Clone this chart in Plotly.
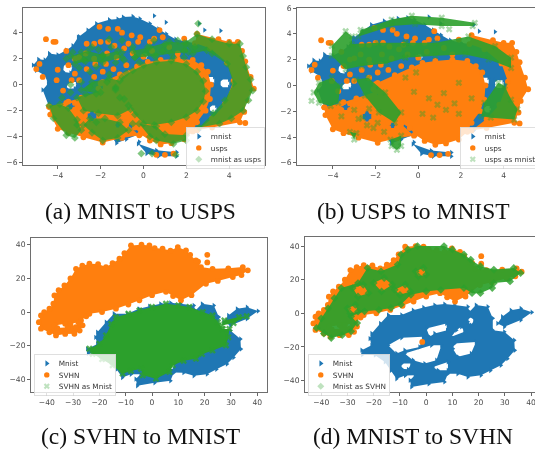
import json
import plotly.graph_objects as go

W, H = 535, 449

# ---- values; each series is a list of outlines / lone points ----
mnist_small = [
    [(-5.15,1.5),(-4.9,1.95),(-4.6,1.9),(-4.4,2.4),(-4.0,2.3),(-3.6,2.65),(-3.3,3.0),(-3.05,3.65),(-2.6,4.2),(-2.2,4.7),(-1.6,5.0),(-1.2,5.05),(-0.95,5.2),(-0.5,5.25),(-0.17,5.08),(0.3,4.7),(0.7,4.3),(1.07,3.9),(1.5,3.5),(2.0,3.3),(3.2,3.0),(4.2,2.6),(4.6,1.3),(4.8,0.1),(4.6,-1.2),(4.2,-2.2),(2.6,-3.5),(1.8,-3.5),(1.2,-3.3),(0.5,-3.5),(-0.17,-3.8),(-0.8,-4.2),(-1.26,-4.5),(-1.5,-4.0),(-1.7,-3.5),(-2.6,-3.4),(-3.6,-3.2),(-4.1,-2.4),(-4.4,-1.7),(-4.7,-0.4),(-4.45,0.1),(-4.6,0.7),(-5.0,1.1)],
    [(-3.75,1.0),(-3.4,0.9),(-3.3,1.5),(-3.7,1.6)],
    [(-3.6,-0.3),(-3.2,-0.3),(-3.1,0.2),(-3.5,0.2)],
    [(-0.1,2.0),(0.2,2.0),(0.2,2.4),(-0.1,2.4)],
    [(2.9,0.0),(3.3,0.0),(3.3,0.6),(2.9,0.6)],
    [(3.6,-0.2),(4.0,-0.2),(4.0,0.4),(3.6,0.4)],
    [(3.1,-2.1),(3.4,-2.1),(3.4,-1.6),(3.1,-1.6)],
    [(0.8,-3.5),(1.2,-3.5),(1.2,-3.1),(0.8,-3.1)],
    [(1.7,-3.6),(2.1,-3.6),(2.1,-3.2),(1.7,-3.2)],
    [(-0.25,-4.55),(0.6,-5.05),(1.55,-5.2),(1.55,-5.5),(0.7,-5.5),(0.15,-5.3)],
    [(0.5,5.3)],[(1.05,4.8)],[(2.6,4.7)],[(2.85,4.2)],[(3.6,4.15)],[(-3.0,3.7)],[(-0.2,-4.4)],
]
usps = [
    [(-1.9,0.2),(-1.1,0.8),(-0.3,1.4),(0.2,1.75),(0.8,1.9),(1.6,2.0),(2.3,1.9),(2.7,1.5),(3.0,1.0),(3.15,0.0),(3.1,-1.1),(2.9,-2.0),(2.5,-2.9),(2.3,-3.6),(1.9,-4.2),(1.3,-4.5),(0.8,-4.6),(0.3,-4.3),(-0.15,-3.8),(-0.4,-3.3),(-0.8,-2.9),(-1.55,-2.1),(-1.9,-1.0)],
    [(-4.4,-1.7),(-3.5,-1.3),(-2.9,-1.0),(-2.0,-0.5),(-1.5,-2.0),(-0.8,-3.0),(-0.2,-3.9),(-1.0,-4.1),(-1.9,-4.45),(-2.8,-4.05),(-3.5,-3.7),(-4.0,-3.4),(-4.35,-2.3)],
    [(-3.6,-1.9),(-3.2,-1.9),(-3.2,-1.4),(-3.6,-1.4)],
    [(-2.6,-2.8),(-2.2,-2.8),(-2.2,-2.0),(-2.6,-2.0)],
    [(-1.4,-3.3),(-1.0,-3.3),(-1.0,-2.9),(-1.4,-2.9)],
    [(2.5,3.9),(3.5,3.5),(4.0,3.3),(4.4,3.3),(4.6,2.6),(4.75,1.8),(5.0,0.6),(5.15,-0.3),(4.8,-1.2),(4.7,-2.1),(4.5,-2.9),(3.2,-3.3),(2.5,-3.5),(3.2,-2.6),(3.8,-1.5),(4.2,0.3),(3.9,1.7),(3.1,2.8),(2.4,3.2)],
    [(-4.55,3.5)],[(-4.2,3.3)],[(-4.1,3.3)],[(-4.85,1.6)],[(-5.0,1.2)],[(-4.0,1.15)],[(-4.7,0.6)],[(-3.6,2.6)],[(-3.2,2.0)],[(-3.0,2.1)],[(-3.5,1.5)],[(-3.2,0.85)],[(-3.0,0.35)],[(-3.35,0.35)],[(-4.05,0.35)],[(-3.75,-0.45)],[(-4.4,-1.7)],
    [(-2.65,3.15)],[(-2.3,3.15)],[(-2.0,3.3)],[(-2.05,4.45)],[(-1.65,4.3)],[(-1.2,4.3)],[(-1.0,4.0)],[(-1.35,3.0)],[(-1.65,3.3)],[(-0.7,3.15)],[(-0.25,3.3)],[(-0.55,3.8)],[(-0.15,3.65)],[(0.3,3.3)],[(0.5,3.55)],[(0.75,4.2)],[(0.9,3.65)],[(1.9,3.55)],
    [(0.0,2.15)],[(-0.5,2.4)],[(-2.3,2.0)],[(-2.25,1.6)],[(-1.75,1.6)],[(-2.65,1.2)],[(-1.9,1.0)],[(-2.3,0.6)],[(-2.0,0.1)],[(-2.1,-0.3)],[(-1.25,2.1)],[(-0.8,1.5)],[(-1.4,1.2)],
    [(4.75,-2.95)],[(0.6,-5.4)],[(1.0,-5.4)],[(1.4,-5.3)],[(-0.55,-2.2)],[(-2.65,-3.75)],[(-1.7,2.4)],[(1.2,2.9)],[(0.4,2.6)],[(1.6,2.4)],[(-0.9,2.8)],[(-2.7,2.4)],
]
green_a = [
    [(-1.3,-0.2),(-1.0,0.6),(-0.5,1.1),(0.0,1.5),(0.6,1.75),(1.3,1.85),(2.0,1.6),(2.5,1.0),(2.8,0.3),(2.9,-0.5),(2.8,-1.3),(2.5,-2.0),(2.0,-2.5),(1.3,-2.9),(0.5,-3.1),(0.0,-3.0),(-0.4,-2.3),(-0.7,-1.6),(-1.1,-1.0)],
    [(-0.2,-3.0),(0.3,-4.0),(0.6,-4.3),(1.4,-4.55),(2.0,-4.3),(2.0,-3.9),(1.0,-3.8),(0.6,-3.2)],
    [(-4.4,-1.6),(-4.2,-2.6),(-3.6,-3.9),(-3.2,-4.1),(-2.9,-3.5),(-3.1,-2.7),(-3.5,-1.8),(-3.9,-1.5)],
    [(-2.8,-3.1),(-2.4,-3.7),(-1.9,-4.3),(-1.2,-4.1),(-0.7,-3.5),(-1.1,-2.9),(-1.8,-2.6),(-2.5,-2.6)],
    [(-3.1,-1.0),(-2.7,-0.7),(-2.0,-0.6),(-1.3,-0.3),(-0.9,-1.1),(-0.6,-1.9),(-1.2,-2.4),(-2.1,-2.2),(-2.8,-2.0)],
    [(-2.9,-0.4),(-2.4,0.2),(-1.6,0.5),(-1.1,0.3),(-1.3,-0.4),(-2.2,-0.7)],
    [(2.5,3.9),(3.2,3.5),(4.0,3.15),(4.5,3.15),(4.65,2.2),(4.8,1.35),(5.0,0.4),(5.1,-0.45),(4.9,-1.2),(4.65,-2.0),(4.1,-2.6),(3.55,-3.0),(2.6,-3.3),(3.25,-2.2),(3.8,-1.2),(4.2,0.1),(3.9,1.6),(2.95,2.65),(2.3,2.4),(1.9,3.2)],
    [(-3.4,2.2),(-2.6,2.6),(-1.9,2.3),(-1.2,2.6),(-1.0,2.1),(-1.9,1.7),(-2.7,1.8),(-3.2,1.6)],
    [(-0.5,2.6),(0.3,2.9),(1.2,3.3),(2.0,3.2),(2.1,2.5),(1.3,2.4),(0.5,2.2),(-0.4,2.1)],
    [(-3.3,2.5)],[(-2.8,1.9)],[(-2.4,2.9)],[(-1.9,2.2)],[(-1.5,2.9)],[(-1.0,2.5)],[(-0.5,2.9)],[(-0.2,1.7)],[(0.2,2.9)],[(0.6,2.2)],[(1.0,3.1)],[(1.4,2.1)],[(1.6,3.4)],[(0.5,3.4)],[(-3.0,1.3)],[(-2.5,1.0)],[(-1.6,0.8)],[(-3.4,0.0)],[(2.55,4.7)],[(-0.1,-5.3)],[(1.5,-5.4)],[(0.4,-5.3)],[(-1.0,3.4)],[(-0.4,2.1)],[(1.9,2.6)],[(-1.3,1.7)],
    [(-2.9,0.2)],[(-2.5,-0.2)],[(-3.4,-0.6)],[(-3.8,-1.0)],[(-1.7,0.2)],[(-0.8,0.9)],[(-2.2,1.4)],[(-2.9,2.5)],[(-3.6,2.0)],[(-2.1,2.7)],[(0.9,2.6)],[(1.9,2.1)],[(2.4,2.9)],[(3.2,2.4)],[(0.1,2.4)],[(-1.6,3.5)],[(-0.9,1.9)],[(-2.2,-2.9)],[(-3.1,-3.1)],[(-0.5,-3.0)],
]
green_b = [
    [(-1.25,5.1),(-0.3,5.4),(1.1,5.25),(2.65,4.85),(2.55,4.6),(1.1,4.6),(-0.15,4.75),(-1.25,4.6),(-2.8,3.8),(-2.7,4.3)],
    [(-4.05,3.05),(-3.4,4.2),(-3.1,3.8),(-3.1,3.2),(-1.9,3.3),(-0.6,3.3),(-0.6,2.15),(-1.5,1.7),(-2.65,1.5),(-3.4,1.25),(-4.05,2.3)],
    [(-0.6,3.3),(0.8,3.3),(2.35,3.8),(3.6,3.05),(4.35,2.15),(4.35,1.35),(3.3,2.0),(2.2,2.4),(0.8,2.3),(-0.6,2.15)],
    [(-4.9,-0.55),(-4.65,0.2),(-4.05,0.6),(-3.65,-0.05),(-3.75,-1.35),(-4.1,-1.6),(-4.65,-1.35)],
    [(-2.9,0.45),(-2.35,0.6),(-1.55,-0.55),(-0.8,-2.1),(-1.1,-2.9),(-1.85,-2.1),(-2.5,-0.8)],
    [(-1.3,-4.2),(-0.8,-3.9),(-0.8,-4.7),(-1.0,-5.0),(-1.25,-4.7)],
    [(-3.2,-3.6),(-3.0,-4.2),(-2.9,-3.7)],
    [(3.1,-1.35),(3.75,0.2),(4.05,-0.05),(4.35,-1.1),(4.65,-1.85),(4.5,-2.65),(3.4,-2.5),(2.95,-2.4)],
    [(1.45,4.35)],[(0.5,-1.0)],[(0.9,-1.5)],[(1.3,-1.9)],[(1.7,-1.4)],[(0.2,-2.2)],[(0.7,-2.5)],[(1.9,-2.2)],[(1.2,-0.6)],[(-0.2,-0.5)],[(-0.6,0.6)],[(-0.1,1.0)],[(1.9,0.2)],[(2.5,-1.0)],[(-2.6,-2.5)],[(-2.1,-3.3)],[(-3.0,-1.9)],[(-1.6,-3.6)],[(-5.0,-1.2)],[(-3.6,-2.4)],[(-2.8,-2.6)],[(-2.3,-1.8)],[(-1.9,-2.9)],[(-2.4,-3.1)],
]
mnist_large = [
    [(-24.6,-21.9),(-20.8,-19),(-21.5,-15),(-20.8,-12),(-17.5,-6),(-14.5,-1),(-9.4,-1),(-5,1.9),(-1,3.5),(3.2,4.9),(7,5.5),(10.8,4.9),(15.9,3.9),(16.5,0.9),(19,4.9),(23.5,3.9),(25.4,-3),(25.4,-10),(29.8,-11),(33.6,-16),(33.8,-22),(31,-27),(28.5,-30.9),(24.5,-34),(20.9,-36.9),(15.9,-37.9),(12,-36),(8.3,-35.9),(7,-40.8),(1,-42),(-5.6,-43.8),(-6.2,-39.8),(-4.3,-36.9),(-8,-37),(-11.3,-38.9),(-13.5,-34),(-15.7,-28.9),(-19.5,-24.9),(-24.3,-24.5)],
    [(-11.3,-23.9),(-8.2,-21.9),(-2.5,-20),(-1.2,-14),(-9.4,-14.6),(-14.5,-19)],
    [(1.3,-14),(3.2,-12),(8,-10),(7.7,-6),(0.1,-9)],
    [(-5,-27.9),(-0.6,-29.9),(3.9,-27.9),(5.8,-19),(2,-19),(-8.2,-23.9)],
    [(10.2,-21),(12.1,-25.9),(17.1,-23.9),(19,-17),(10.8,-18)],
    [(-9.4,-32.9),(-6.9,-33.3),(-5.6,-29.9),(-9.4,-29.9)],
    [(4.5,-33.9),(8.3,-33.9),(8.3,-28.9),(2.6,-31.9)],
    [(15.9,-5),(17.1,-7),(18.4,-4),(16.5,-2)],
    [(9.6,-14),(14.6,-11),(13.4,-8),(11.5,-10)],
    [(27.2,-6),(29,-2),(32.3,1.9),(36.1,2.9),(40.3,0.6),(36.1,-4),(29.8,-8)],
]
svhn = [
    [(-42.2,-2),(-43,-6),(-42.2,-9.9),(-39,-12),(-36.5,-13.9),(-33,-13),(-29.5,-12.9),(-27.5,-11),(-26.4,-7.9),(-27,-5),(-25,-2.5),(-23.8,-1),(-19,0),(-13.7,2),(-9,4.5),(-4.8,7),(0,10),(5.3,12),(8,9.5),(11,7),(15,10),(20.5,16.8),(25,18.5),(30.7,20.8),(34,22),(36.4,24.8),(34.5,26.7),(29,26),(23,25.7),(18.6,26.7),(17.5,30),(16.7,30.7),(14.5,34),(12.9,36.6),(9.8,38.6),(7,36.5),(4,37.6),(1,38),(-1,39.6),(-4,40),(-8,39.6),(-10.5,35),(-12.4,31.7),(-15,29),(-17.5,26.7),(-20.5,28.5),(-23.8,28.7),(-26.5,27.5),(-28.9,25.7),(-31,20),(-33.3,15.8),(-35.5,13),(-37.1,9.9),(-37.5,5),(-39,2),(-41,0)],
    [(-37,-8),(-33,-7),(-32,-9),(-36,-9.5)],
    [(-31,-7),(-28,-6),(-29,-9)],
    [(21,34)],[(21,29.5)],[(-1.5,-17)],
]
green_c = [
    [(-20,-18.8),(-17.5,-13.9),(-15.5,-7),(-13.7,-3),(-9,-1),(-4.8,1),(0,3),(5.3,5),(10,4),(14.2,3),(19.3,0),(23,-2),(25,-6),(26.9,-10),(29.4,-10),(29,-15),(28.1,-19.8),(23,-22.8),(19,-25),(16.7,-27.7),(12,-29),(7.9,-31.7),(6.6,-35.6),(1.5,-39.6),(-3.5,-37.6),(-4.2,-33.7),(-8,-35),(-11.2,-36.6),(-15,-31.7),(-19,-28),(-22.6,-24.8),(-23.8,-21.8)],
    [(27.5,-5),(33,-3),(36,-2.5),(31,-6.5),(26.5,-8)],
]
green_d = [
    [(-41.8,-8.7),(-39,-12),(-36.2,-14.7),(-32,-13),(-28.6,-10.7),(-26.3,-5.8),(-28.6,-1.8),(-23.5,1.2),(-18,2),(-13.4,3.2),(-9.6,5.2),(-5.8,11),(0,13),(5.6,14),(14.4,15),(17.5,12),(20.7,12),(25.2,15),(25.8,18),(32,19),(36,24),(33.4,27),(25.8,26),(20.7,28),(17,32),(14.4,35),(10,38),(6.8,40),(-3.3,40),(-7,38),(-9.6,35),(-10.9,29),(-17.2,25),(-22.4,27),(-26,18),(-32.4,15),(-35,9),(-37.4,3),(-40,-3)],
    [(-28,15),(-24,17),(-22,12),(-26,10)],
    [(-20,18),(-16,21),(-13,17),(-17,13)],
    [(-30,3),(-27,5),(-26,1),(-29,0)],
    [(-12,14),(-8,17),(-6,13),(-10,11)],
    [(-4,25),(-1,27),(0,23),(-3,22)],
]

panels = [
    dict(box=(23,265,8,165), xr=(-5.62,5.67), yr=(5.9,-6.18), xt=[-4,-2,0,2,4], yt=[-6,-4,-2,0,2,4],
         blue=mnist_small, orange=usps, green=green_a, sym="diamond", galpha=0.8, malpha=0.6,
         names=["mnist","usps","mnist as usps"], leg=(186,127), cap="(a) MNIST to USPS", cx=140, cy=211),
    dict(box=(297,535,8,165), xr=(-5.68,5.47), yr=(6.0,-6.17), xt=[-4,-2,0,2,4], yt=[-6,-4,-2,0,2,4,6],
         blue=mnist_small, orange=usps, green=green_b, sym="x", galpha=0.9, malpha=0.4,
         names=["mnist","usps","usps as mnist"], leg=(460,127), cap="(b) USPS to MNIST", cx=413, cy=211),
    dict(box=(31,267,238,392), xr=(-46,43.7), yr=(44,-47.5), xt=[-40,-30,-20,-10,0,10,20,30,40], yt=[-40,-20,0,20,40],
         blue=mnist_large, orange=svhn, green=green_c, sym="x", galpha=1.0, malpha=0.8,
         names=["Mnist","SVHN","SVHN as Mnist"], leg=(34,354), cap="(c) SVHN to MNIST", cx=140, cy=436),
    dict(box=(305,535,237,392), xr=(-46.2,41.5), yr=(45.4,-46.8), xt=[-40,-30,-20,-10,0,10,20,30,40], yt=[-40,-20,0,20,40],
         blue=mnist_large, orange=svhn, green=green_d, sym="diamond", galpha=0.93, malpha=0.8,
         names=["Mnist","SVHN","Mnist as SVHN"], leg=(308,354), cap="(d) MNIST to SVHN", cx=413, cy=436),
]

def split(polys):
    xs, ys = [], []
    for poly in polys:
        xs += [p[0] for p in poly] + [None]
        ys += [p[1] for p in poly] + [None]
    return xs, ys

BLUE, ORANGE, GREEN = "#1f77b4", "#ff7f0e", "#2ca02c"
LEGEND_SCALE = 0.6
fig = go.Figure()
layout = dict(width=W, height=H, margin=dict(l=0,r=0,t=0,b=0,autoexpand=False), paper_bgcolor="white", plot_bgcolor="white",
              showlegend=True, annotations=[])
tickfont = dict(family="DejaVu Sans", size=7.6, color="#4a4a4a")

for i, p in enumerate(panels):
    n = "" if i == 0 else str(i+1)
    l, r, t, b = p["box"]
    axis = dict(showgrid=False, zeroline=False, showline=True, mirror=True, linecolor="#6e6e6e", linewidth=1,
                ticks="outside", ticklen=3, tickwidth=0.8, tickcolor="#666", tickfont=tickfont)
    layout["xaxis"+n] = dict(axis, domain=[l/W, r/W], range=list(p["xr"]), tickvals=p["xt"], anchor="y"+n,
                             tickangle=0, ticklabeloverflow="allow")
    layout["yaxis"+n] = dict(axis, domain=[1-b/H, 1-t/H], range=[p["yr"][1], p["yr"][0]], tickvals=p["yt"], anchor="x"+n)
    lname = "legend"+n
    layout[lname] = dict(x=p["leg"][0]/W, y=1-p["leg"][1]/H, xanchor="left", yanchor="top",
                         bgcolor="rgba(255,255,255,0.8)", bordercolor="rgba(204,204,204,0.8)", borderwidth=1.3,
                         font=dict(family="DejaVu Sans", size=12.2, color="#333"), tracegroupgap=0)
    ax = dict(xaxis="x"+n, yaxis="y"+n)
    series = [(p["blue"], BLUE, "triangle-right", 4.6, 1.0, 1.0),
              (p["orange"], ORANGE, "circle", 5.8, 1.0, 1.0),
              (p["green"], GREEN, p["sym"], 6, p["galpha"], p["malpha"])]
    for polys, col, sym, size, falpha, malpha in series:
        x, y = split(polys)
        r_, g_, b_ = int(col[1:3],16), int(col[3:5],16), int(col[5:7],16)
        fig.add_trace(go.Scatter(x=x, y=y, mode="markers", fill="toself", fillcolor=f"rgba({r_},{g_},{b_},{falpha})",
                                 marker=dict(color=col, symbol=sym, size=size, opacity=malpha, line=dict(width=0)),
                                 showlegend=False, hoverinfo="skip", **ax))
    styles = [(BLUE,"triangle-right",9,1.0),(ORANGE,"circle",9,1.0),(GREEN,p["sym"],9,0.3)]
    for name, (col, sym, size, op) in zip(p["names"], styles):
        fig.add_trace(go.Scatter(x=[None], y=[None], mode="markers", name=name, legend=lname,
                                 marker=dict(color=col, symbol=sym, size=size, opacity=op), **ax))
    layout["annotations"].append(dict(text=p["cap"], xref="paper", yref="paper", x=p["cx"]/W, y=1-p["cy"]/H,
                                      xanchor="center", yanchor="middle", showarrow=False,
                                      font=dict(family="Liberation Serif", size=23.5, color="#111")))

fig.update_layout(**layout)

legend_spots = {("legend" + ("" if i == 0 else str(i+1))): p["leg"] for i, p in enumerate(panels)}
post = """
document.body.style.margin='0';
var spots = %s;
Object.keys(spots).forEach(function(k){
  var g = document.querySelector('.infolayer g.' + k);
  if(g) g.setAttribute('transform','translate('+spots[k][0]+','+spots[k][1]+') scale(%s)');
});
var c = document.querySelector('.cartesianlayer');
if(c) c.style.filter='blur(0.45px)';
""" % (json.dumps(legend_spots), LEGEND_SCALE)
fig.write_html("out.html", post_script=post, config={"displayModeBar": False})
